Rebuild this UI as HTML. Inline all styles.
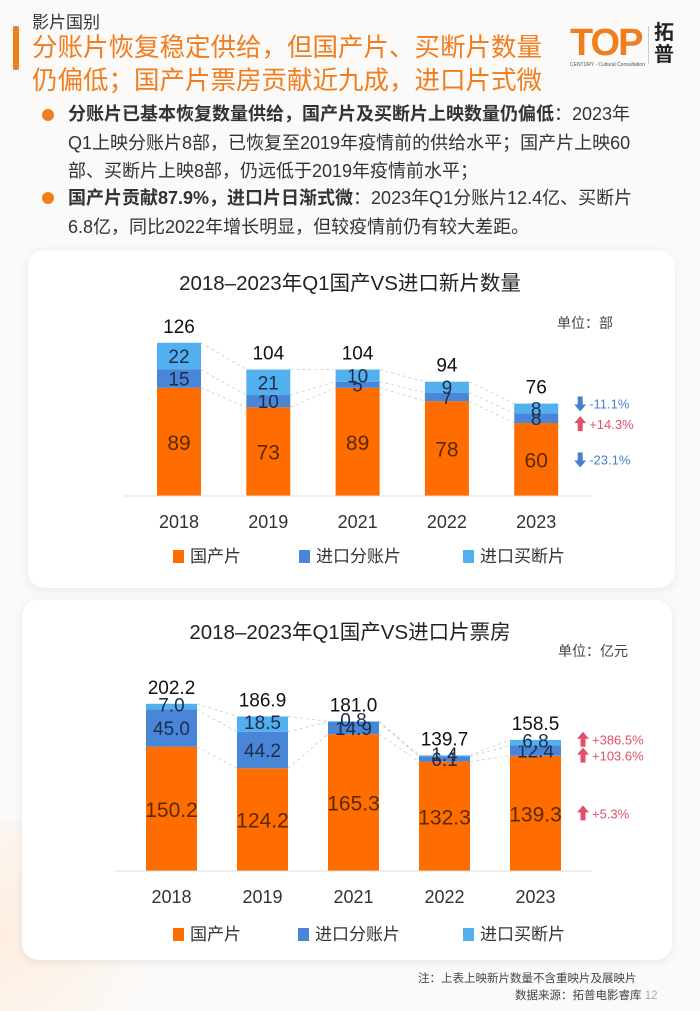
<!DOCTYPE html>
<html><head><meta charset="utf-8"><style>
body{margin:0;width:700px;height:1011px;background:#fbfaf9;font-family:"Liberation Sans","Noto Sans CJK SC",sans-serif;position:relative;overflow:hidden}
.t{position:absolute;white-space:nowrap}
.card{position:absolute;background:#fff;border-radius:16px;box-shadow:0 2px 10px rgba(0,0,0,0.08)}
.dot{position:absolute;width:12px;height:12px;border-radius:50%;background:#f07d1e}
</style></head><body>
<div style="position:absolute;left:0;top:820px;width:200px;height:191px;background:radial-gradient(circle at 0% 60%,#fdeee0,rgba(253,238,224,0) 70%)"></div>
<div style="position:absolute;left:13px;top:26px;width:6px;height:44px;background:#f07d1e;border-radius:2px"></div>
<div class="t" style="left:32px;top:8px;font-size:17px;color:#333">影片国别</div>
<div class="t" style="left:32px;top:32px;font-size:25.5px;line-height:33px;color:#f07d1e">分账片恢复稳定供给，但国产片、买断片数量<br>仍偏低；国产片票房贡献近九成，进口片式微</div>
<div class="t" style="left:570px;top:22px;font-size:38px;font-weight:bold;color:#f07d1e;letter-spacing:-2px">TOP</div>
<div class="t" style="left:570px;top:62px;font-size:5px;color:#555">CENTURY · Cultural Consultation</div>
<div style="position:absolute;left:648px;top:26px;width:1px;height:38px;background:#ccc"></div>
<div class="t" style="left:654px;top:22px;font-size:20px;line-height:22px;font-weight:bold;color:#222">拓<br>普</div>
<div class="dot" style="left:42px;top:109px"></div>
<div class="t" style="left:68px;top:100px;font-size:18px;line-height:28.5px;color:#333"><b>分账片已基本恢复数量供给，国产片及买断片上映数量仍偏低</b>：2023年<br>Q1上映分账片8部，已恢复至2019年疫情前的供给水平；国产片上映60<br>部、买断片上映8部，仍远低于2019年疫情前水平；</div>
<div class="dot" style="left:42px;top:192px"></div>
<div class="t" style="left:68px;top:184px;font-size:18px;line-height:28.5px;color:#333"><b>国产片贡献87.9%，进口片日渐式微</b>：2023年Q1分账片12.4亿、买断片<br>6.8亿，同比2022年增长明显，但较疫情前仍有较大差距。</div>
<div class="card" style="left:28px;top:250px;width:647px;height:338px"></div>
<div class="card" style="left:22px;top:600px;width:650px;height:360px"></div>
<svg id="c" width="700" height="1011" style="position:absolute;left:0;top:0" font-family="Liberation Sans, Noto Sans CJK SC, sans-serif"></svg>
<div class="t" style="left:418px;top:970px;font-size:11.5px;color:#444">注：上表上映新片数量不含重映片及展映片</div>
<div class="t" style="left:515px;top:987px;font-size:11.5px;color:#444">数据来源：拓普电影睿库 <span style="color:#aaa">12</span></div>
<script>
const years=["2018","2019","2021","2022","2023"];
const cntDomestic=[89,73,89,78,60];
const cntSplit=[15,10,5,7,8];
const cntBuyout=[22,21,10,9,8];
const cntTotal=["126","104","104","94","76"];
const cntChanges=[["down","-11.1%","b"],["up","+14.3%","r"],["down","-23.1%","b"]];
const boxDomestic=[150.2,124.2,165.3,132.3,139.3];
const boxSplit=[45.0,44.2,14.9,6.1,12.4];
const boxBuyout=[7.0,18.5,0.8,1.4,6.8];
const boxTotal=["202.2","186.9","181.0","139.7","158.5"];
const boxChanges=[["up","+386.5%","r"],["up","+103.6%","r"],["up","+5.3%","r"]];
const NS="http://www.w3.org/2000/svg",svg=document.getElementById('c');
const C=["#ff6c00","#4a86d8","#53b0ee"];
function mk(t,a,p){const e=document.createElementNS(NS,t);for(const k in a)e.setAttribute(k,a[k]);(p||svg).appendChild(e);return e;}
function txt(x,y,s,size,fill,anchor){const e=mk('text',{x:x,y:y,'font-size':size,fill:fill,'text-anchor':anchor||'middle'});e.textContent=s;return e;}
function chart(o){
  const xs=i=>o.x0+i*o.dx, ys=v=>o.base-v*o.scale;
  const t=txt(350,o.titleY,o.title,20.5,"#222");
  const u=txt(o.unitX,o.unitY,o.unit,14,"#444","start");
  const series=[o.d,o.s,o.b],names=["domestic","split","buyout"];
  for(let i=0;i<4;i++){let c1=0,c2=0;for(let k=0;k<3;k++){c1+=series[k][i];c2+=series[k][i+1];
    const l=mk('line',{x1:xs(i)+o.w/2,y1:ys(c1),x2:xs(i+1)-o.w/2,y2:ys(c2),stroke:"#ccc","stroke-dasharray":"3,3","stroke-width":0.8});
    }}
  for(let i=0;i<5;i++){let cum=0;
    for(let k=0;k<3;k++){const v=series[k][i];
      const r=mk('rect',{x:xs(i)-o.w/2,y:ys(cum+v),width:o.w,height:v*o.scale,fill:C[k]});
      
      const ly=k==0?ys(cum+v/2)+8:ys(cum+v/2)+(o.lo[k]||0)+7;
      const lab=txt(xs(i),ly,o.fmt(v),k==0?21:19,k==0?"#5a2a00":"#1d2d4a");
      
      cum+=v;}
    const tl=txt(xs(i),ys(cum)-10,o.tot[i],19,"#111");
    const xl=txt(xs(i),o.base+32,years[i],18,"#333");
  }
  const ax=mk('line',{x1:o.x0-o.dx*0.62,y1:o.base,x2:xs(4)+o.dx*0.62,y2:o.base,stroke:"#ddd"});
  
  let cum=0;for(let k=0;k<3;k++){const v=series[k][4];const y=ys(cum+v/2)+(o.co[k]||0);cum+=v;
    const c=o.ch[2-k];const col=c[2]=="r"?"#e0506a":"#4a7fd0";const ax0=xs(4)+o.w/2+22;
    const d=c[0]=="up"?`M${ax0},${y-8} l6,7 h-3.5 v8 h-5 v-8 h-3.5 z`:`M${ax0},${y+8} l6,-7 h-3.5 v-8 h-5 v8 h-3.5 z`;
    const a=mk('path',{d:d,fill:col});
    const tt=txt(ax0+9,y+5,c[1],13,col,"start");}
  const lg=[["国产片",o.legX[0]],["进口分账片",o.legX[1]],["进口买断片",o.legX[2]]];
  lg.forEach((g,k)=>{const r=mk('rect',{x:g[1],y:o.legY-12,width:11,height:13,fill:C[k]});
    const t2=txt(g[1]+17,o.legY,g[0],17,"#333","start");});
}
chart({title:"2018–2023年Q1国产VS进口新片数量",titleY:290,unit:"单位：部",unitX:557,unitY:328,x0:179,dx:89.3,w:44,base:496,scale:1.216,
  d:cntDomestic,s:cntSplit,b:cntBuyout,tot:cntTotal,ch:cntChanges,fmt:v=>String(v),lo:[0,0,0],co:[0,6,-5],legX:[173,299,463],legY:562});
chart({title:"2018–2023年Q1国产VS进口片票房",titleY:639,unit:"单位：亿元",unitX:558,unitY:656,x0:171.5,dx:91,w:51,base:871,scale:0.827,
  d:boxDomestic,s:boxSplit,b:boxBuyout,tot:boxTotal,ch:boxChanges,fmt:v=>v.toFixed(1),lo:[0,0,-2],co:[0,5,-3],legX:[173,298,463],legY:940});
</script>
</body></html>
